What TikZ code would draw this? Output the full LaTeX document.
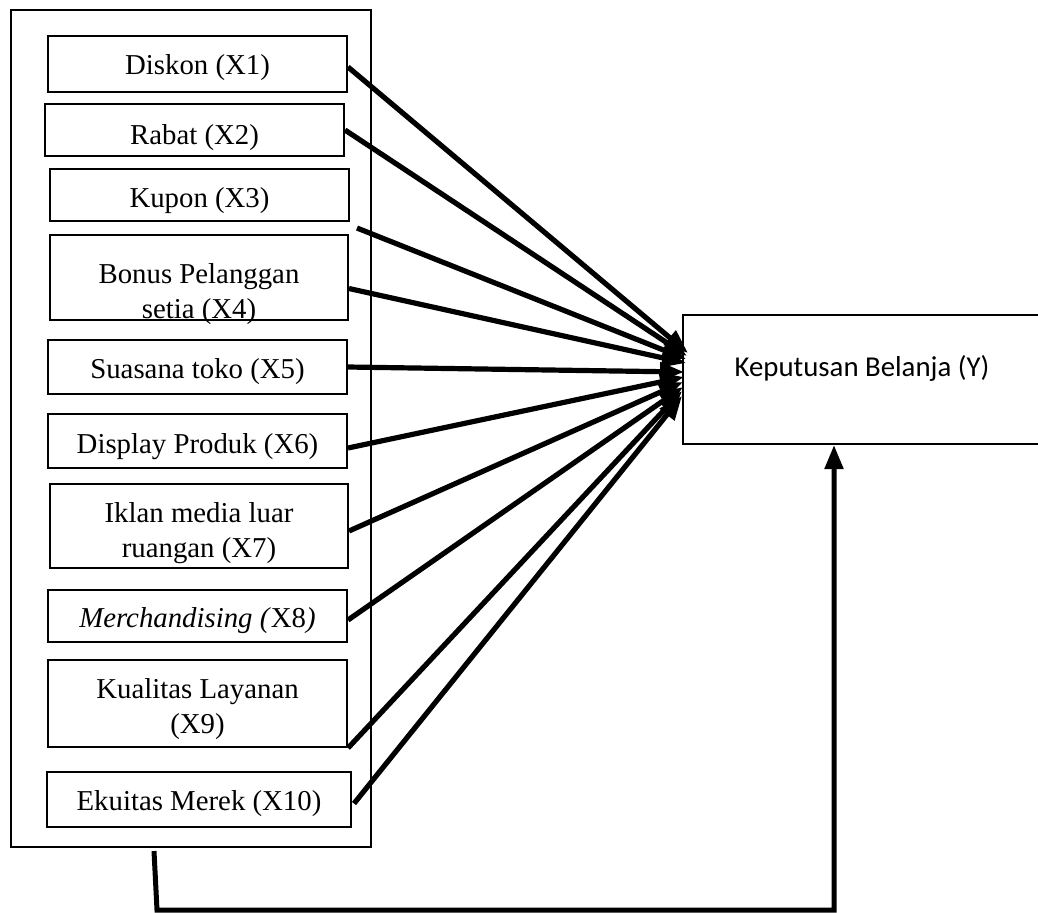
\documentclass[tikz,border=0pt]{standalone}
\usepackage{fontspec}
\setmainfont{Liberation Serif}
\newfontfamily\calibri{Carlito}
\usetikzlibrary{arrows.meta}
\begin{document}
\begin{tikzpicture}[
    x=0.5pt, y=-0.5pt,
    frame/.style={rectangle, draw, line width=1pt, anchor=north west, inner sep=0pt},
    var/.style={rectangle, draw, line width=1pt, anchor=north west, inner sep=0pt, align=center, font=\fontsize{14.4}{17.5}\selectfont},
    target/.style={rectangle, draw, line width=1pt, anchor=north west, inner sep=0pt, align=center, font=\calibri\fontsize{14.4}{17.5}\selectfont},
    arrow/.style={-{Triangle[length=12pt, width=9pt]}, line width=2.6pt},
    ]
    \useasboundingbox (0,0) rectangle (1038,912);

    % Outer frame
    \node[frame, minimum width=180pt, minimum height=418.5pt] (frame) at (10,9) {};

    % Independent variables
    \node[var, minimum width=149.5pt, text height=19pt, text depth=9pt] (x1) at (47,35) {Diskon (X1)};
    \node[var, minimum width=149.5pt, text height=20pt, text depth=6pt] (x2) at (44,103) {Rabat (X2)};
    \node[var, minimum width=149.5pt, text height=19pt, text depth=7pt] (x3) at (49,168) {Kupon (X3)};
    \node[var, minimum width=149pt, text height=41.5pt, text depth=1pt] (x4) at (49,234) {Bonus Pelanggan\\setia (X4)};
    \node[var, minimum width=149.5pt, text height=19pt, text depth=8pt] (x5) at (47,339) {Suasana toko (X5)};
    \node[var, minimum width=149.5pt, text height=19.5pt, text depth=7.5pt] (x6) at (47,413) {Display Produk (X6)};
    \node[var, minimum width=149pt, text height=36.5pt, text depth=5.5pt] (x7) at (49,483) {Iklan media luar\\ruangan (X7)};
    \node[var, minimum width=149.5pt, text height=18.5pt, text depth=7.5pt] (x8) at (47,589) {\textit{Merchandising (}X8\textit{)}};
    \node[var, minimum width=149.5pt, text height=36.5pt, text depth=7pt] (x9) at (47,659) {Kualitas Layanan\\(X9)};
    \node[var, minimum width=152pt, text height=19pt, text depth=8.5pt] (x10) at (46,771) {Ekuitas Merek (X10)};

    % Dependent variable
    \node[target, minimum width=179pt, text height=30.5pt, text depth=34pt] (yb) at (682,314) {Keputusan Belanja (Y)};

    % Arrows - variables to Y
    \draw[arrow] ([yshift=-1.5pt]x1.east) -- ([xshift=3pt, yshift=13.25pt]yb.west);
    \draw[arrow] (x2.east) -- ([xshift=2.5pt, yshift=11.75pt]yb.west);
    \draw[arrow] ([xshift=3.5pt, yshift=-3pt]x3.south east) -- ([xshift=2pt, yshift=10.25pt]yb.west);
    \draw[arrow] ([yshift=-5.5pt]x4.east) -- ([xshift=2pt, yshift=8.25pt]yb.west);
    \draw[arrow] (x5.east) -- ([xshift=1pt, yshift=3.75pt]yb.west);
    \draw[arrow] ([yshift=-3.5pt]x6.east) -- ([xshift=1pt, yshift=1.25pt]yb.west);
    \draw[arrow] ([yshift=-2.5pt]x7.east) -- ([xshift=0.5pt, yshift=-1.25pt]yb.west);
    \draw[arrow] ([yshift=-2pt]x8.east) -- ([xshift=0.5pt, yshift=-3.75pt]yb.west);
    \draw[arrow] (x9.south east) -- ([yshift=-5.75pt]yb.west);
    \draw[arrow] ([xshift=1pt, yshift=-2pt]x10.east) -- ([yshift=-8.25pt]yb.west);

    % Arrow - frame to Y
    \coordinate (fb) at (154,851);
    \coordinate (bend) at (157,910);
    \draw[arrow, line width=2.5pt] (fb) -- (bend) -| ([xshift=-14pt]yb.south);

\end{tikzpicture}
\end{document}
